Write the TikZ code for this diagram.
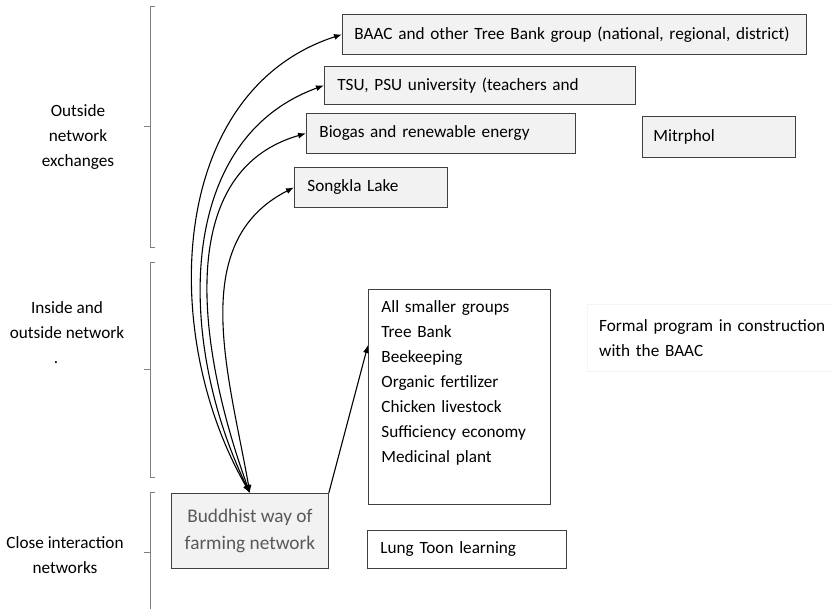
\documentclass[tikz,border=0pt]{standalone}
\usepackage{fontspec}
\setmainfont{Carlito}
\usepackage{tikz}
\usetikzlibrary{arrows.meta}
\tikzset{>={Latex[length=8pt,width=6pt]}}
\definecolor{boxfill}{HTML}{F2F2F2}
\definecolor{boxline}{HTML}{404040}
\definecolor{bracegray}{HTML}{808080}
\definecolor{budtext}{HTML}{595959}

\begin{document}
\begin{tikzpicture}[x=1pt, y=1pt,
        every node/.style={font=\fontsize{17.2}{25}\selectfont},
        gbox/.style={draw=boxline, fill=boxfill, line width=0.8pt, anchor=north west,
                     align=left, inner xsep=13pt, inner ysep=0pt},
        wbox/.style={draw=boxline, fill=white, line width=0.8pt, anchor=north west,
                     align=left, inner xsep=13pt},
        link/.style={<->, line width=1.1pt}]
                    \useasboundingbox (0,0) rectangle (832,-609);

                    % brackets
                    \draw[bracegray, line width=0.8pt] (155,-6) -- (150,-6) -- (150,-247) -- (155,-247);
                    \draw[bracegray, line width=0.8pt] (150,-126) -- (144,-126);
                    \draw[bracegray, line width=0.8pt] (155,-262) -- (150,-262) -- (150,-477) -- (155,-477);
                    \draw[bracegray, line width=0.8pt] (150,-369) -- (144,-369);
                    \draw[bracegray, line width=0.8pt] (155,-492) -- (150,-492) -- (150,-612);
                    \draw[bracegray, line width=0.8pt] (150,-552) -- (144,-552);

                    \node[align=center] (outside) at (78,-137) {Outside\\network\\exchanges};
                    \node[align=center] (inside) at (67,-333) {Inside and\\outside network\\\hspace*{-22pt}.};
                    \node[align=center] (close) at (65,-555) {Close interaction\\networks};

                    % outside partners
                    \node[gbox, text width=440pt, inner xsep=12pt, minimum height=40pt] (baac) at (342,-14)
                        {\mbox{BAAC and other Tree Bank group (national, regional, district)}};
                    \node[gbox, text width=285pt, minimum height=38pt] (tsu) at (324,-66)
                        {TSU, PSU university (teachers and};
                    \node[gbox, text width=243pt, minimum height=40pt] (biogas) at (306,-113)
                        {Biogas and renewable energy};
                    \node[gbox, text width=131pt, minimum height=41pt, inner xsep=11pt] (mitrphol) at (642,-116)
                        {Mitrphol};
                    \node[gbox, text width=127pt, minimum height=40pt] (songkla) at (294,-167)
                        {Songkla Lake};

                    % inside groups
                    \node[wbox, text width=156pt, inner ysep=6pt, text height=17pt, text depth=186pt] (groups) at (368,-289)
                        {All smaller groups\\Tree Bank\\Beekeeping\\Organic fertilizer\\Chicken livestock\\Sufficiency economy\\Medicinal plant};
                    \node[draw=black!4, anchor=north west, align=left, inner xsep=12pt, text width=240pt, minimum height=67pt] (formal) at (587,-304)
                        {Formal program in construction\\with the BAAC};

                    % close networks
                    \node[gbox, align=center, minimum width=157pt, minimum height=75pt, text=budtext,
                          font=\fontsize{19.3}{27}\selectfont] (bud) at (171,-493)
                        {Buddhist way of\\farming network};
                    \node[wbox, text width=173pt, minimum height=38pt, inner ysep=0pt] (lungtoon) at (367,-530)
                        {Lung Toon learning};

                    \draw[link] (bud.north) to [out=120, in=198] (baac.west);
                    \draw[link] (bud.north) to [out=116, in=200] (tsu.west);
                    \draw[link] (bud.north) to [out=110, in=196] (biogas.west);
                    \draw[link] (bud.north) to [out=100, in=207] (songkla.west);

                    \draw[->, line width=1.1pt] (bud.north east) -- ([yshift=-56pt]groups.north west);
\end{tikzpicture}
\end{document}
